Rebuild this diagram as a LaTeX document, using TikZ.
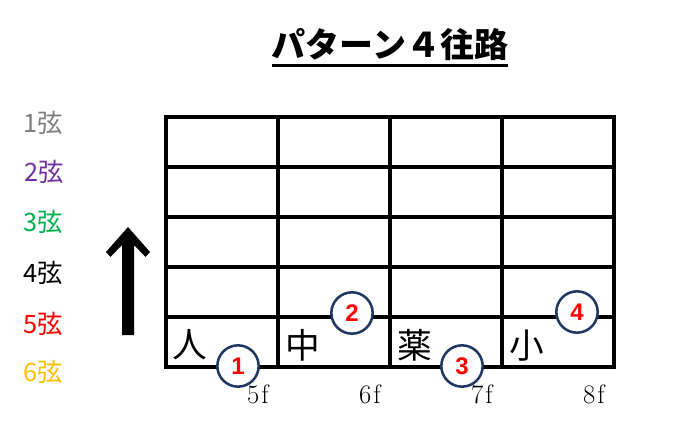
\documentclass[tikz,border=0pt]{standalone}
\usepackage{fontspec}
\newfontfamily\jp{Noto Sans CJK JP}
\newfontfamily\numfont{Liberation Sans}
\definecolor{navy}{HTML}{203864}
\definecolor{sgray}{HTML}{7F7F7F}
\definecolor{spurple}{HTML}{7030A0}
\definecolor{sgreen}{HTML}{00B050}
\definecolor{sred}{HTML}{FF0000}
\definecolor{sgold}{HTML}{FFC000}
\tikzset{
  gridline/.style={line width=2.4pt, line cap=rect},
  circ/.style={circle, draw=navy, line width=1.9pt, fill=white, minimum size=31pt, inner sep=0pt,
    text=red, font=\numfont\bfseries\fontsize{18}{18}\selectfont},
  strlab/.style={font=\jp\fontsize{19}{19}\selectfont},
  kanji/.style={font=\jp\fontsize{26}{26}\selectfont},
  fret/.style={font=\fontsize{20}{20}\selectfont},
}
\begin{document}
\begin{tikzpicture}[x=0.75pt,y=-0.75pt]
\useasboundingbox (0,0) rectangle (681,439);
% title
\node[font=\jp\bfseries\fontsize{25.5}{25.5}\selectfont, inner sep=0pt] (title) at (390,45) {パターン４往路};
\draw[line width=1.6pt] ([yshift=-3pt]title.south west) -- ([yshift=-3pt]title.south east);
% string labels
\node[strlab, text=sgray] (s1) at (43,123) {1弦};
\node[strlab, text=spurple] (s2) at (44,172) {2弦};
\node[strlab, text=sgreen] (s3) at (43,222) {3弦};
\node[strlab, text=black] (s4) at (43,273) {4弦};
\node[strlab, text=sred] (s5) at (43,324) {5弦};
\node[strlab, text=sgold] (s6) at (43,372) {6弦};
% arrow
\fill (128,227) -- (150,252) -- (145.5,257) -- (134,245) -- (134,335) -- (122,335) -- (122,245) -- (110.5,257) -- (106,252) -- cycle;
% grid
\draw[gridline] (166,117) rectangle (614,367);
\foreach \x in {278,390,502} \draw[gridline] (\x,117) -- (\x,367);
\foreach \y in {167,217,267,317} \draw[gridline] (166,\y) -- (614,\y);
% kanji
\node[kanji] (k1) at (190,345) {人};
\node[kanji] (k2) at (303,345) {中};
\node[kanji] (k3) at (415,345) {薬};
\node[kanji] (k4) at (527,346) {小};
% circles
\node[circ] (c1) at (238,366) {1};
\node[circ] (c2) at (352,313) {2};
\node[circ] (c3) at (462,366) {3};
\node[circ] (c4) at (577,312) {4};
% frets
\node[fret] (f5) at (258,394) {5\kern1.5pt f};
\node[fret] (f6) at (370,394) {6\kern1.5pt f};
\node[fret] (f7) at (482,394) {7\kern1.5pt f};
\node[fret] (f8) at (594,394) {8\kern1.5pt f};
\end{tikzpicture}
\end{document}
